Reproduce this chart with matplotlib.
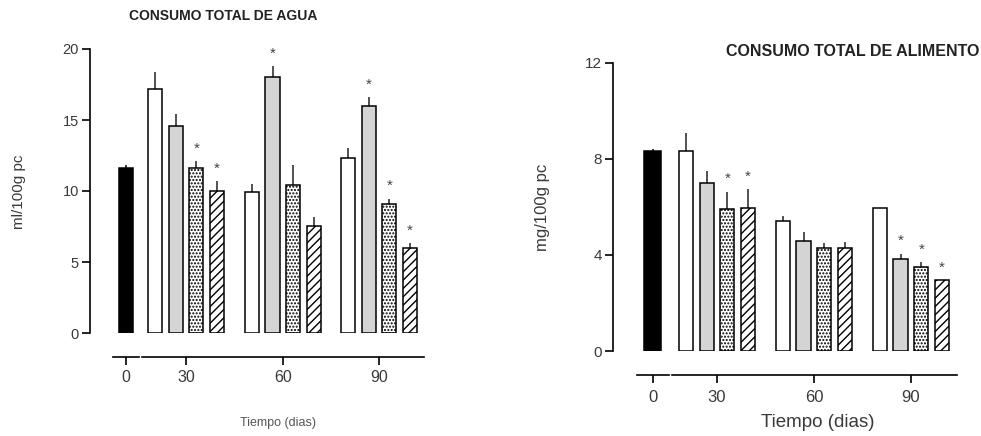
import matplotlib
matplotlib.use('Agg')
import matplotlib.pyplot as plt
import matplotlib.transforms as mtransforms
import numpy as np

plt.rcParams['font.family'] = ['Liberation Sans', 'DejaVu Sans']
plt.rcParams['hatch.linewidth'] = 1.0

# ---------------- data ----------------
dias = ['0', '30', '60', '90']

# Consumo total de agua (ml/100g pc)
agua_ctrl = 11.6
agua_ctrl_err = 0.24
agua_blanco = [17.2, 9.9, 12.3]
agua_blanco_err = [1.15, 0.6, 0.75]
agua_gris = [14.6, 18.0, 16.0]
agua_gris_err = [0.85, 0.8, 0.62]
agua_punteado = [11.6, 10.4, 9.05]
agua_punteado_err = [0.5, 1.45, 0.42]
agua_rayado = [10.0, 7.5, 6.0]
agua_rayado_err = [0.68, 0.65, 0.32]
agua_sig = [[0, 0, 0], [0, 1, 1], [1, 0, 1], [1, 0, 1]]

# Consumo total de alimento (mg/100g pc)
alim_ctrl = 8.35
alim_ctrl_err = 0.05
alim_blanco = [8.35, 5.42, 5.95]
alim_blanco_err = [0.75, 0.22, 0.0]
alim_gris = [7.0, 4.6, 3.85]
alim_gris_err = [0.52, 0.36, 0.2]
alim_punteado = [5.9, 4.3, 3.5]
alim_punteado_err = [0.74, 0.22, 0.21]
alim_rayado = [5.95, 4.3, 2.95]
alim_rayado_err = [0.79, 0.23, 0.0]
alim_sig = [[0, 0, 0], [0, 0, 1], [1, 0, 1], [1, 0, 1]]

estilos = [dict(facecolor='white', hatch=None),
           dict(facecolor='#d4d4d4', hatch=None),
           dict(facecolor='white', hatch='.....'),
           dict(facecolor='white', hatch='////')]

TXT = '#3a3a3a'

fig = plt.figure(figsize=(9.81, 4.36), dpi=100)


def panel(rect, ctrl, ctrl_err, series, errs, sig, centers, xlim, ylim, yticks,
          seg0, segmain, ctrl_w, ytick_fs, xtick_fs, xpad):
    ax = fig.add_axes(rect)
    ew = 1.1
    ax.bar([0], [ctrl], width=ctrl_w, color='black', edgecolor='black', linewidth=ew, zorder=3)
    ax.errorbar([0], [ctrl], yerr=[[0], [ctrl_err]], fmt='none', ecolor='black',
                elinewidth=1.1, capsize=0, zorder=2)
    for i, (vals, err, st) in enumerate(zip(series, errs, estilos)):
        xs = np.array(centers) + (i - 1.5)
        ax.bar(xs, vals, width=0.68, facecolor=st['facecolor'], hatch=st['hatch'],
               edgecolor='black', linewidth=ew, zorder=3)
        ax.errorbar(xs, vals, yerr=[[0] * len(vals), err], fmt='none', ecolor='#222222',
                    elinewidth=1.1, capsize=0, zorder=2)
        for x, v, e, s in zip(xs, vals, err, sig[i]):
            if s:
                ax.annotate('*', xy=(x, v + e), xytext=(0, 4), textcoords='offset points',
                            ha='center', va='bottom', fontsize=11, color='#444444')
    ax.set_xlim(*xlim)
    ax.set_ylim(*ylim)
    ax.set_yticks(yticks)
    ax.set_yticklabels([str(t) for t in yticks], fontsize=ytick_fs, color=TXT)
    for s in ['top', 'right']:
        ax.spines[s].set_visible(False)
    ax.spines['left'].set_linewidth(1.2)
    ax.spines['left'].set_bounds(ylim[0], ylim[1])
    off_pt = 24 * 72 / 100
    ax.spines['bottom'].set_position(('outward', off_pt))
    ax.spines['bottom'].set_bounds(*segmain)
    ax.spines['bottom'].set_linewidth(1.2)
    ax.set_xticks([0] + list(centers))
    ax.set_xticklabels(dias, fontsize=xtick_fs, color=TXT)
    ax.tick_params(axis='both', direction='out', length=6, width=1.2, colors='black')
    ax.tick_params(axis='y', pad=2, labelcolor=TXT)
    ax.tick_params(axis='x', pad=xpad, labelcolor=TXT)
    tr = mtransforms.offset_copy(ax.get_xaxis_transform(), fig=fig, x=0, y=-24, units='dots')
    ax.plot(seg0, [0, 0], color='black', lw=1.2, transform=tr, clip_on=False)
    return ax


ax1 = panel([90 / 981, 103 / 436, 334 / 981, 284 / 436],
            agua_ctrl, agua_ctrl_err,
            [agua_blanco, agua_gris, agua_punteado, agua_rayado],
            [agua_blanco_err, agua_gris_err, agua_punteado_err, agua_rayado_err],
            agua_sig, [2.9, 7.58, 12.22], (-1.74, 14.4), (0, 20), [0, 5, 10, 15, 20],
            [-0.63, 0.63], (0.77, 14.4), 0.68, 10.5, 11.5, 3)

ax2 = panel([613.3 / 981, 85 / 436, 344 / 981, 288 / 436],
            alim_ctrl, alim_ctrl_err,
            [alim_blanco, alim_gris, alim_punteado, alim_rayado],
            [alim_blanco_err, alim_gris_err, alim_punteado_err, alim_rayado_err],
            alim_sig, [3.1, 7.78, 12.46], (-1.9, 14.7), (0, 12), [0, 4, 8, 12],
            [-0.77, 0.77], (0.95, 14.7), 0.82, 11, 12, 5)

fig.text(223 / 981, 1 - 16 / 436, 'CONSUMO TOTAL DE AGUA', ha='center', va='center',
         fontsize=10, fontweight='bold', color='#222222')
fig.text(979 / 981, 1 - 51 / 436, 'CONSUMO TOTAL DE ALIMENTO', ha='right', va='center',
         fontsize=11.5, fontweight='bold', color='#222222')
fig.text(19 / 981, 1 - 192 / 436, 'ml/100g pc', rotation=90, ha='center', va='center',
         fontsize=11, color=TXT)
fig.text(542 / 981, 1 - 207 / 436, 'mg/100g pc', rotation=90, ha='center', va='center',
         fontsize=12, color=TXT)
fig.text(278 / 981, 1 - 423 / 436, 'Tiempo (dias)', ha='center', va='center',
         fontsize=9, color='#555555')
fig.text(818 / 981, 1 - 422 / 436, 'Tiempo (dias)', ha='center', va='center',
         fontsize=13.5, color=TXT)

fig.savefig('out.png', dpi=100)
